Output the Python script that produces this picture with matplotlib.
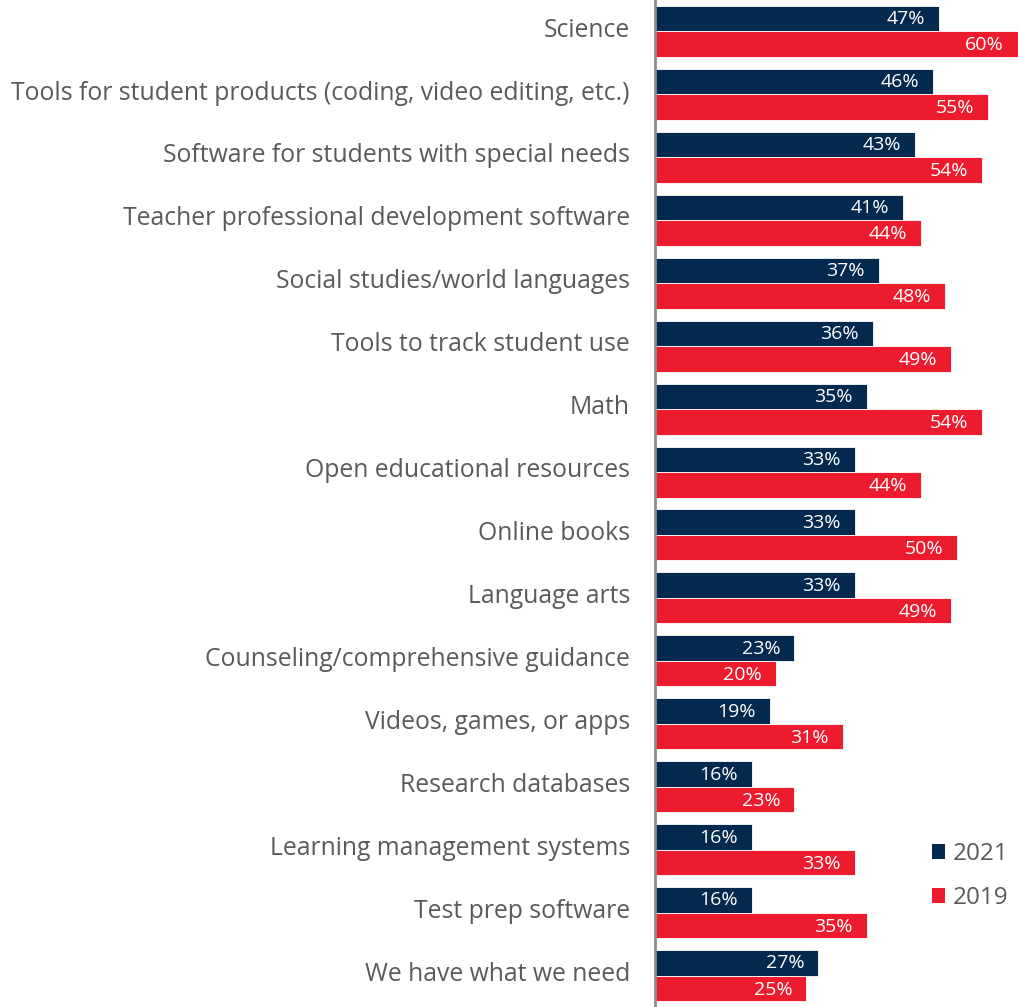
import numpy as np
import matplotlib
matplotlib.use('Agg')
import matplotlib.pyplot as plt
from matplotlib.patches import Patch

# ----------------------------------------------------------------------------------------------------------------------
## Data
categories = [
    'Science',
    'Tools for student products (coding, video editing, etc.)',
    'Software for students with special needs',
    'Teacher professional development software',
    'Social studies/world languages',
    'Tools to track student use',
    'Math',
    'Open educational resources',
    'Online books',
    'Language arts',
    'Counseling/comprehensive guidance',
    'Videos, games, or apps',
    'Research databases',
    'Learning management systems',
    'Test prep software',
    'We have what we need',
]
values_2021 = [47, 46, 43, 41, 37, 36, 35, 33, 33, 33, 23, 19, 16, 16, 16, 27]
values_2019 = [60, 55, 54, 44, 48, 49, 54, 44, 50, 49, 20, 31, 23, 33, 35, 25]
series_names = ['2021', '2019']

navy = '#032a4e'
red = '#ec1c2e'
gray = '#5a5a5a'

plt.rcParams['font.family'] = ['Open Sans', 'DejaVu Sans']

fig = plt.figure(figsize=(10.18, 10.07), dpi=100)
ax = fig.add_axes([0.6434, 0.0, 0.3566, 1.0])

y = np.arange(len(categories))
h = 0.405
ax.barh(y - h/2, values_2021, height=h, color=navy, edgecolor='white', linewidth=0.6)
ax.barh(y + h/2, values_2019, height=h, color=red, edgecolor='white', linewidth=0.6)

for yi, v in zip(y, values_2021):
    ax.text(v - 2.3, yi - h/2 + 0.01, '%d%%' % v, color='white', fontsize=14,
            ha='right', va='center')
for yi, v in zip(y, values_2019):
    ax.text(v - 2.3, yi + h/2 + 0.02, '%d%%' % v, color='white', fontsize=14,
            ha='right', va='center')

ax.set_xlim(0, 60)
ax.set_ylim(len(categories) - 0.5, -0.5)
ax.set_yticks(y - 0.07)
ax.set_yticklabels(categories, fontsize=17.8, color=gray)
ax.tick_params(axis='y', length=0, pad=18)
ax.set_xticks([])
for s in ['top', 'right', 'bottom']:
    ax.spines[s].set_visible(False)
ax.spines['left'].set_color('#8c8c8c')
ax.spines['left'].set_linewidth(2)

handles = [Patch(facecolor=navy), Patch(facecolor=red)]
leg = fig.legend(handles, series_names, loc='center left', bbox_to_anchor=(0.894, 0.13),
                 frameon=False, fontsize=17.5, handlelength=0.55, handleheight=0.55,
                 handletextpad=0.3, labelspacing=0.8, labelcolor=gray)

fig.savefig('out.png', dpi=100)
